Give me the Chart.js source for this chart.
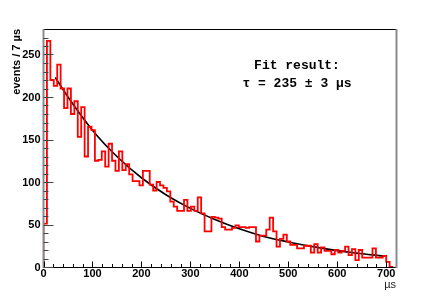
<!DOCTYPE html>
<html><head><meta charset="utf-8">
<script src="https://cdn.jsdelivr.net/npm/chart.js@4/dist/chart.umd.min.js"></script>
<style>html,body{margin:0;padding:0;background:#fff;}canvas{display:block;}</style>
</head><body>
<canvas id="c" width="440" height="297"></canvas>
<script>
// ---- data ----
const binWidth = 7; // µs per bin
const counts = [0,51,266,220,213,238,210,187,210,180,195,153,188,130,165,161,125,126,136,118,
  145,125,113,136,114,121,109,101,101,96,113,113,97,90,100,96,93,89,77,71,
  66,66,79,66,71,66,82,63,42,42,59,58,57,47,44,44,46,49,47,47,
  46,47,47,30,37,37,44,58,42,24,33,38,30,26,26,22,22,25,25,17,
  27,17,23,19,19,15,20,17,19,24,14,21,8,20,11,11,11,22,11,11,13,6];
const fitT = [24,50,100,150,200,250,300,350,400,450,500,550,600,650,697];
const fitV = [223,200,161,130,105,85,69,56,45,36,29.5,24,19.3,15.6,12.8];
const xTicks = [0,100,200,300,400,500,600,700];
const yTicks = [0,50,100,150,200,250];
const xMinorStep = 20, yMinorStep = 10;
const yTitle = 'events / 7 \u00b5s';
const xTitle = '\u00b5s';
const fitLines = ['Fit result:', '\u03c4 = 235 \u00b1 3 \u00b5s'];

const histPts = counts.map((v, i) => ({x: i * binWidth, y: v}));
histPts.push({x: counts.length * binWidth, y: 0});
const fitPts = fitT.map((t, i) => ({x: t, y: fitV[i]}));

const decor = {
  id: 'decor',
  afterDraw(chart) {
    const ctx = chart.ctx, a = chart.chartArea;
    const xs = chart.scales.x, ys = chart.scales.y;
    ctx.save();
    // frame
    ctx.lineWidth = 1; ctx.strokeStyle = '#000';
    ctx.beginPath(); ctx.moveTo(a.left, a.top + 0.5); ctx.lineTo(a.right, a.top + 0.5); ctx.stroke();
    ctx.beginPath(); ctx.moveTo(a.left, a.bottom + 0.5); ctx.lineTo(a.right + 1, a.bottom + 0.5); ctx.stroke();
    ctx.lineWidth = 2; ctx.strokeStyle = '#8a8a8a';
    ctx.beginPath(); ctx.moveTo(a.left, a.top); ctx.lineTo(a.left, a.bottom + 1); ctx.stroke();
    ctx.beginPath(); ctx.moveTo(a.right + 0.5, a.top); ctx.lineTo(a.right + 0.5, a.bottom + 1); ctx.stroke();
    // x ticks
    ctx.lineWidth = 1; ctx.strokeStyle = '#000';
    for (let v = 0; v < xs.max; v += xMinorStep) {
      const px = Math.round(xs.getPixelForValue(v)) + 0.5;
      const len = (v % 100 === 0) ? 5.5 : 3;
      ctx.beginPath(); ctx.moveTo(px, a.bottom); ctx.lineTo(px, a.bottom - len); ctx.stroke();
    }
    // y ticks
    ctx.strokeStyle = '#444';
    for (let v = 0; v < ys.max; v += yMinorStep) {
      const py = Math.round(ys.getPixelForValue(v)) + 0.5;
      const len = (v % 50 === 0) ? 10 : 5;
      ctx.beginPath(); ctx.moveTo(a.left, py); ctx.lineTo(a.left + len, py); ctx.stroke();
    }
    // tick labels
    ctx.fillStyle = '#000';
    ctx.font = 'bold 11px "Liberation Sans", Arial, sans-serif';
    ctx.textAlign = 'right'; ctx.textBaseline = 'middle';
    yTicks.forEach(v => ctx.fillText(String(v), a.left - 3, ys.getPixelForValue(v) + 0.5));
    ctx.textAlign = 'center';
    xTicks.forEach(v => ctx.fillText(String(v), xs.getPixelForValue(v), a.bottom + 7));
    // axis titles
    ctx.save();
    ctx.translate(16.5, a.top);
    ctx.rotate(-Math.PI / 2);
    ctx.textAlign = 'right'; ctx.textBaseline = 'middle';
    ctx.fillText(yTitle, 0, 0);
    ctx.restore();
    ctx.font = '11px "Liberation Sans", Arial, sans-serif';
    ctx.fillStyle = '#222';
    ctx.textAlign = 'right'; ctx.textBaseline = 'middle';
    ctx.fillText(xTitle, a.right, a.bottom + 18);
    // fit text
    ctx.fillStyle = '#000';
    ctx.font = 'bold 13px "Liberation Mono", "Courier New", monospace';
    ctx.textAlign = 'center';
    ctx.fillText(fitLines[0], 297, 66);
    ctx.fillText(fitLines[1], 297, 84);
    ctx.restore();
  }
};

new Chart(document.getElementById('c'), {
  type: 'line',
  data: {
    datasets: [
      {data: histPts, stepped: 'after', borderColor: '#ff0000', borderWidth: 1.8,
       pointRadius: 0, fill: false},
      {data: fitPts, borderColor: '#000', borderWidth: 1.6, pointRadius: 0,
       fill: false, cubicInterpolationMode: 'monotone'}
    ]
  },
  options: {
    responsive: false, animation: false, devicePixelRatio: 1,
    layout: {padding: {left: 43.5, right: 44, top: 29, bottom: 30}},
    plugins: {legend: {display: false}, tooltip: {enabled: false}},
    scales: {
      x: {type: 'linear', min: 0, max: 720, display: false},
      y: {type: 'linear', min: 0, max: 280, display: false}
    }
  },
  plugins: [decor]
});
</script>
</body></html>
